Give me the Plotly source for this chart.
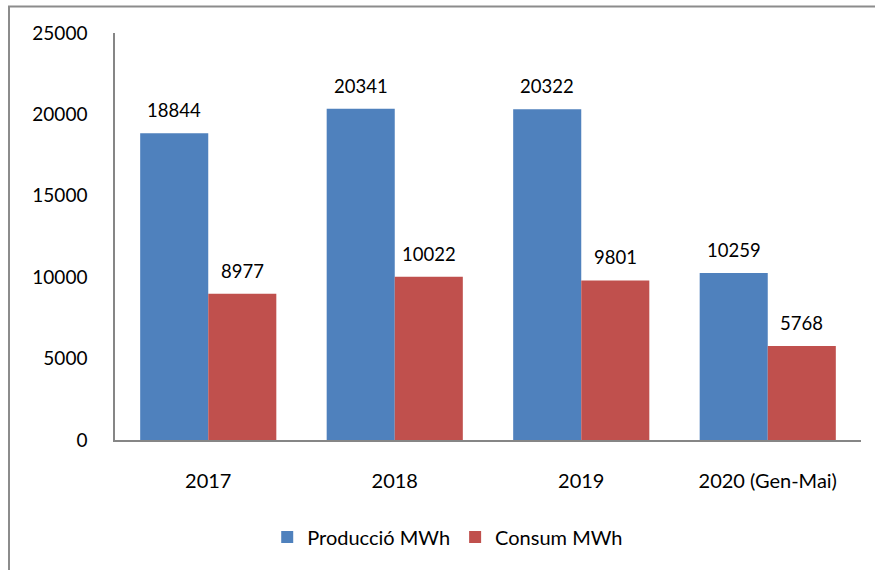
import plotly.graph_objects as go

categories = ["2017", "2018", "2019", "2020 (Gen-Mai)"]
produccio = [18844, 20341, 20322, 10259]
consum = [8977, 10022, 9801, 5768]
series_names = ["Producció MWh", "Consum MWh"]
y_ticks = [0, 5000, 10000, 15000, 20000, 25000]

BLUE = "#4F81BD"
RED = "#C0504D"
FONT = "Lato"

fig = go.Figure()
fig.add_trace(go.Bar(x=categories, y=produccio, name=series_names[0],
                     marker=dict(color=BLUE, line=dict(width=0))))
fig.add_trace(go.Bar(x=categories, y=consum, name=series_names[1],
                     marker=dict(color=RED, line=dict(width=0))))

ann = []
for vals, shift in ((produccio, -34), (consum, 34)):
    for i, v in enumerate(vals):
        ann.append(dict(x=i, y=v, xref="x", yref="y", text=str(v), showarrow=False,
                        xshift=shift, yshift=23, yanchor="middle",
                        font=dict(family=FONT, size=18.5, color="#000")))

L, R, T, B = 115, 14, 33, 130
W, H = 875, 570
pw, ph = W - L - R, H - T - B

fig.update_layout(
    width=W, height=H,
    margin=dict(l=L, r=R, t=T, b=B, pad=0),
    paper_bgcolor="white", plot_bgcolor="white",
    barmode="group", bargap=0.27, bargroupgap=0,
    font=dict(family=FONT, size=18, color="#000"),
    showlegend=True,
    legend=dict(orientation="h", x=0.446, xanchor="center", y=(440 - 537) / ph,
                yanchor="middle", font=dict(family=FONT, size=20),
                itemwidth=30, itemsizing="constant", traceorder="normal"),
    annotations=ann,
    shapes=[dict(type="rect", xref="paper", yref="paper",
                 x0=(9 - L) / pw, x1=(W + 20 - L) / pw,
                 y0=(440 - (H + 20)) / ph, y1=1 + (T - 6.5) / ph,
                 line=dict(color="#8C8C8C", width=2), fillcolor="rgba(0,0,0,0)",
                 layer="below")],
)
fig.update_yaxes(range=[0, 25000], tickvals=y_ticks, ticktext=[str(v) for v in y_ticks],
                 showgrid=False, zeroline=False,
                 showline=True, linecolor="#868686", linewidth=1.5,
                 ticks="", ticklabelstandoff=22, tickfont=dict(family=FONT, size=19))
fig.update_xaxes(type="category", categoryorder="array", categoryarray=categories,
                 range=[-0.5, len(categories) - 0.5],
                 showline=True, linecolor="#868686", linewidth=1.5, ticks="",
                 showgrid=False, ticklabelstandoff=22, tickfont=dict(family=FONT, size=20))

fig.write_html("out.html", config={"displayModeBar": False},
               post_script="document.body.style.margin='0';document.body.style.overflow='hidden';")
